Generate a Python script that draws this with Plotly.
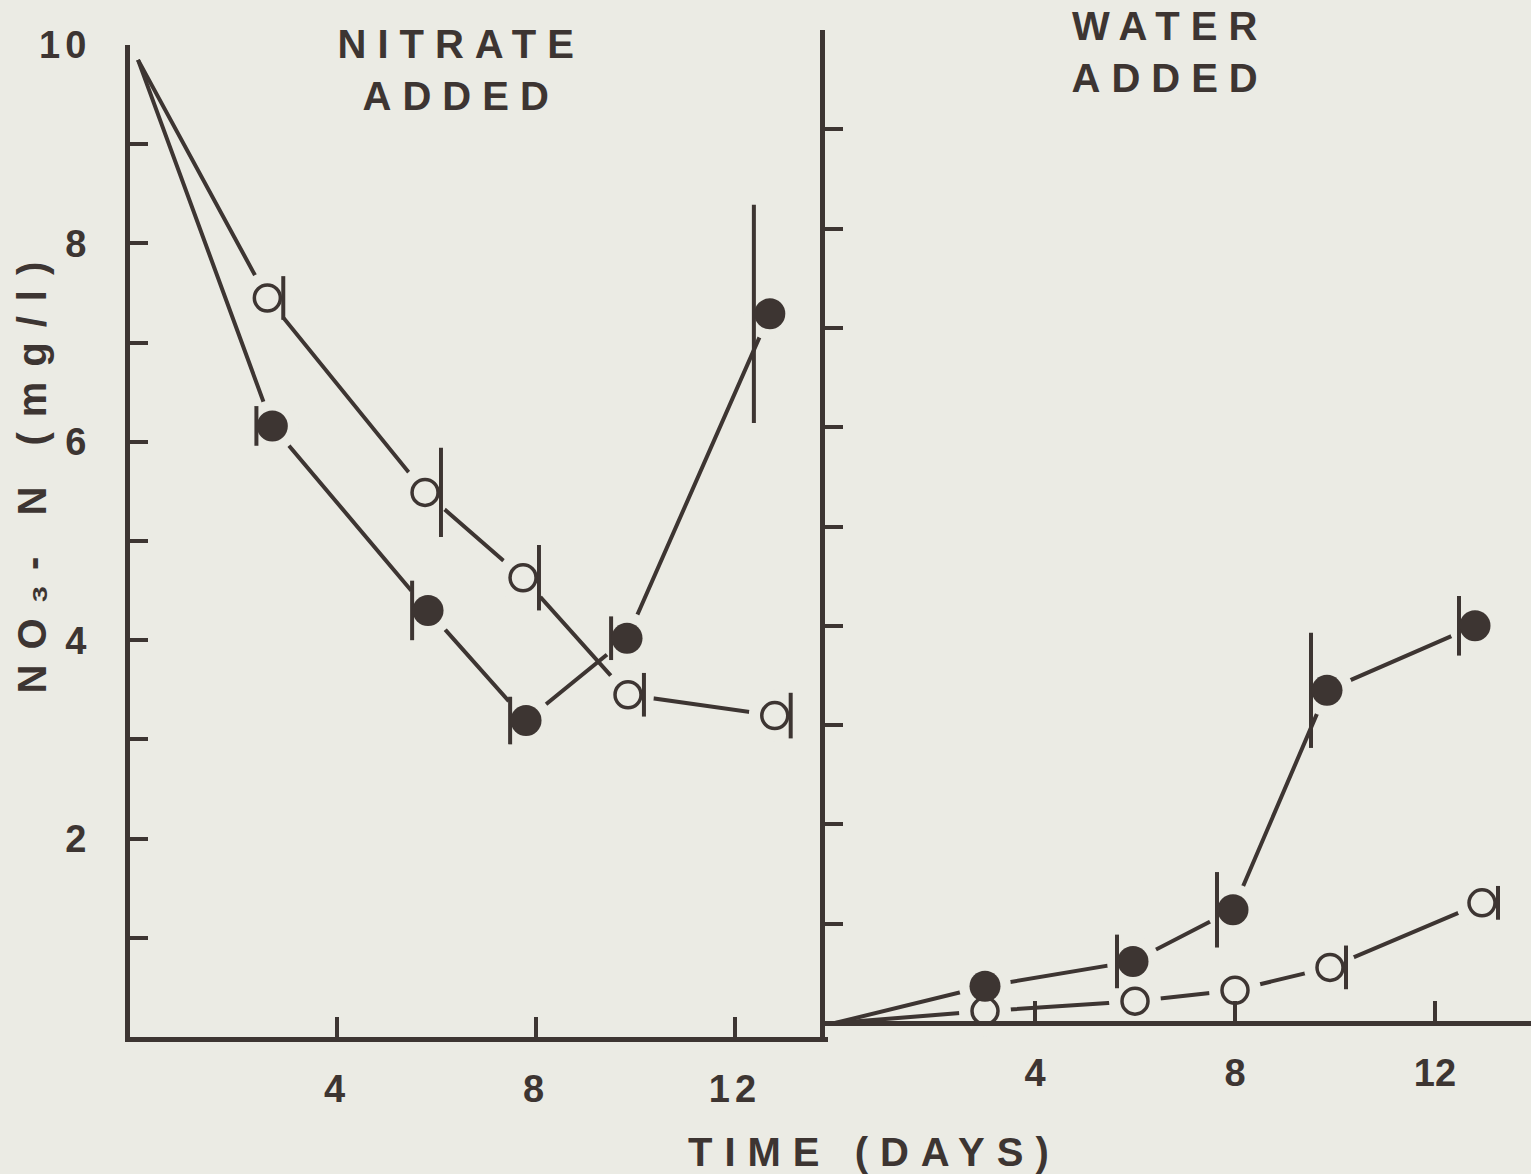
import json
import plotly.graph_objects as go

# ---- data: NO3-N (mg/l) against time (days) ----
# nitrate-amended series
nitrate_open_days = [2.6, 5.77, 7.74, 9.85, 12.8]
nitrate_open_no3 = [7.45, 5.49, 4.63, 3.45, 3.24]
nitrate_open_err = [0.22, 0.45, 0.33, 0.22, 0.23]
nitrate_filled_days = [2.7, 5.83, 7.8, 9.83, 12.7]
nitrate_filled_no3 = [6.16, 4.30, 3.19, 4.02, 7.29]
nitrate_filled_err = [0.20, 0.30, 0.24, 0.22, 1.10]
nitrate_start = 9.85

# water-amended series
water_open_days = [3.0, 6.0, 8.0, 9.9, 12.94]
water_open_no3 = [0.12, 0.22, 0.33, 0.56, 1.21]
water_open_err = [0.0, 0.0, 0.0, 0.22, 0.17]
water_filled_days = [3.0, 5.96, 7.96, 9.84, 12.8]
water_filled_no3 = [0.37, 0.62, 1.14, 3.35, 4.00]
water_filled_err = [0.0, 0.27, 0.38, 0.58, 0.30]
water_start = 0.0

x_tick_vals = [4, 8, 12]
x_tick_text = ["4", "8", "12"]
y_label_vals = [2, 4, 6, 8, 10]
y_label_text = ["2", "4", "6", "8", "10"]
y_minor_vals = [1, 3, 5, 7, 9]
y_all_vals = list(range(1, 11))

panel_titles = ["NITRATE<br>ADDED", "WATER<br>ADDED"]
x_title = "TIME (DAYS)"
y_title = "NO\u2083- N (mg/l)"

# ---- style ----
BG = "#ebebe4"
INK = "#3d3532"
FONT = "Liberation Sans"
W, H = 1531, 1174
BAR_SHIFT = 0.32      # error bars sit on the edge of each circle (days)
LINE_W = 4


def fx(p):
    return p / W


def fy(p):
    return (H - p) / H


fig = go.Figure()

panels = [
    dict(xa="x", ya="y", start=nitrate_start,
         series=[(nitrate_open_days, nitrate_open_no3, nitrate_open_err, False),
                 (nitrate_filled_days, nitrate_filled_no3, nitrate_filled_err, True)]),
    dict(xa="x2", ya="y2", start=water_start,
         series=[(water_open_days, water_open_no3, water_open_err, False),
                 (water_filled_days, water_filled_no3, water_filled_err, True)]),
]

# connecting lines
for p in panels:
    for days, vals, err, filled in p["series"]:
        fig.add_trace(go.Scatter(
            x=[0] + days, y=[p["start"]] + vals, mode="lines",
            line=dict(color=INK, width=LINE_W), xaxis=p["xa"], yaxis=p["ya"],
            cliponaxis=False, hoverinfo="skip"))

# paper-coloured halos leave a small gap between lines and symbols
for p in panels:
    for days, vals, err, filled in p["series"]:
        fig.add_trace(go.Scatter(
            x=days, y=vals, mode="markers",
            marker=dict(size=52, color=BG, line=dict(width=0)),
            xaxis=p["xa"], yaxis=p["ya"], cliponaxis=False, hoverinfo="skip"))

# error bars, drawn tangent to the symbol edge
for p in panels:
    for days, vals, err, filled in p["series"]:
        shift = -BAR_SHIFT if filled else BAR_SHIFT
        fig.add_trace(go.Scatter(
            x=[d + shift for d in days], y=vals, mode="markers",
            marker=dict(size=1, color="rgba(0,0,0,0)"),
            error_y=dict(type="data", array=err, symmetric=True,
                         width=0, thickness=LINE_W, color=INK),
            xaxis=p["xa"], yaxis=p["ya"], cliponaxis=False, hoverinfo="skip"))

# symbols
for p in panels:
    for days, vals, err, filled in p["series"]:
        if filled:
            marker = dict(size=31, color=INK, line=dict(width=0))
        else:
            marker = dict(size=26, color=BG, line=dict(width=3.5, color=INK))
        fig.add_trace(go.Scatter(
            x=days, y=vals, mode="markers", marker=marker,
            xaxis=p["xa"], yaxis=p["ya"], cliponaxis=False))

axis_common = dict(showline=True, linewidth=5, linecolor=INK, showgrid=False,
                   zeroline=False, ticks="inside", tickcolor=INK, tickwidth=4,
                   automargin=False,
                   tickfont=dict(family=FONT, size=38, color=INK, weight="bold"))

fig.update_layout(
    width=W, height=H, margin=dict(l=0, r=0, t=0, b=0, autoexpand=False),
    paper_bgcolor=BG, plot_bgcolor="rgba(0,0,0,0)", showlegend=False,
    xaxis=dict(domain=[fx(130), fx(828)], range=[-0.161, 13.87], anchor="y",
               tickvals=x_tick_vals, ticktext=x_tick_text, ticklen=20,
               ticklabelstandoff=14, **axis_common),
    yaxis=dict(domain=[fy(1037), fy(45)], range=[0, 10], anchor="x",
               tickvals=y_label_vals, ticktext=y_label_text, ticklen=18,
               ticklabelstandoff=26,
               minor=dict(tickvals=y_minor_vals, ticks="inside", ticklen=18,
                          tickwidth=4, tickcolor=INK),
               **axis_common),
    xaxis2=dict(domain=[fx(825), 1.0], range=[-0.2, 13.92], anchor="free",
                position=fy(1023), tickvals=x_tick_vals, ticktext=x_tick_text,
                ticklen=20, ticklabelstandoff=14, **axis_common),
    yaxis2=dict(domain=[fy(1037), fy(30)], range=[-0.141, 10], anchor="x2",
                tickvals=y_all_vals, showticklabels=False, ticklen=18,
                **axis_common),
)

title_font = dict(family=FONT, size=40, color=INK, weight="bold")
annotations = [
    dict(text=panel_titles[0], x=fx(461), y=fy(70), textangle=0),
    dict(text=panel_titles[1], x=fx(1170), y=fy(52), textangle=0),
    dict(text=x_title, x=fx(874), y=fy(1152), textangle=0),
    dict(text=y_title, x=fx(32), y=fy(470), textangle=-90),
]
for a in annotations:
    fig.add_annotation(xref="paper", yref="paper", showarrow=False,
                       xanchor="center", yanchor="middle", align="center",
                       font=title_font, **a)

# hand-lettered look: widen letter spacing of the labels
spacing = {"0": 11, "1": 11, "2": 12, "3": 15}
post = """
var gd = document.getElementById('{plot_id}');
var sp = %s;
function spaceLetters(){
  gd.querySelectorAll('g.annotation').forEach(function(g){
    var i = g.getAttribute('data-index');
    var t = g.querySelector('text.annotation-text');
    if (t && sp[i] !== undefined) { t.style.letterSpacing = sp[i] + 'px'; }
  });
  gd.querySelectorAll('g.xtick text, g.ytick text').forEach(function(t){
    t.style.letterSpacing = '5px';
  });
}
spaceLetters();
gd.on('plotly_afterplot', spaceLetters);
""" % json.dumps(spacing)

fig.write_html("out.html", post_script=post)
